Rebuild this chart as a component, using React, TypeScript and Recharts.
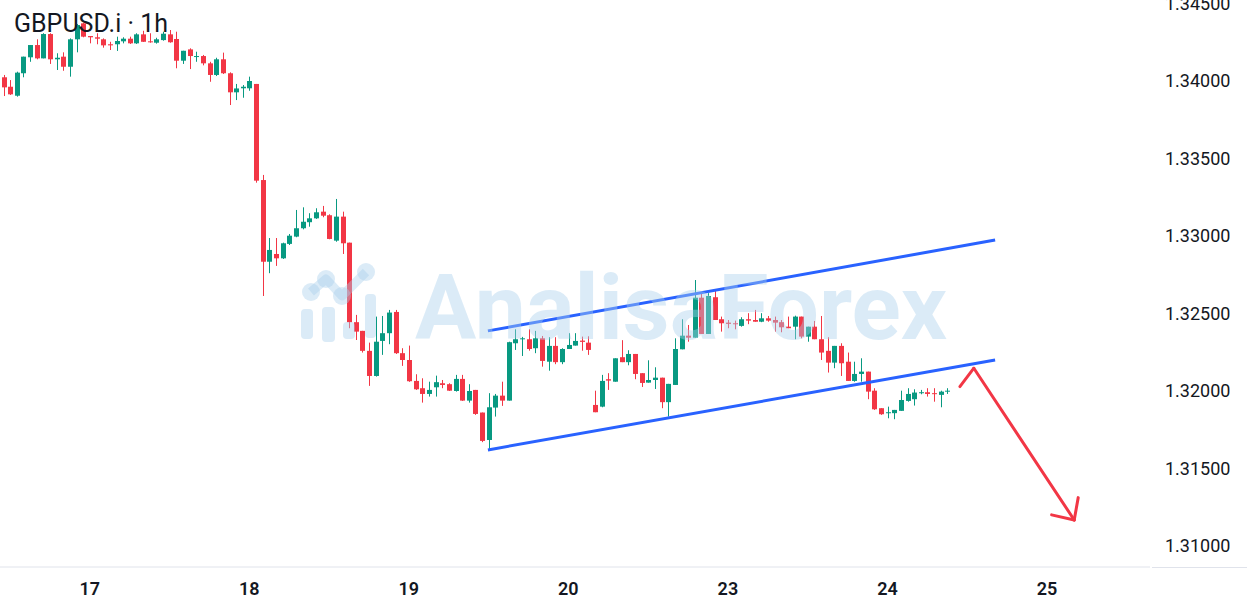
import React from 'react';
import { Bar, ComposedChart, ReferenceLine, XAxis, YAxis } from 'recharts';

// GBPUSD.i, 1h candles (oldest first)
const opens = [
  1.34024, 1.33963, 1.33905, 1.3405, 1.34153, 1.34232, 1.34146, 1.34303, 1.3414, 1.34157,
  1.34092, 1.34269, 1.34372, 1.3429, 1.34282, 1.34269, 1.34237, 1.34237, 1.34256, 1.34273,
  1.34243, 1.34301, 1.34256, 1.34247, 1.34264, 1.34301, 1.34271, 1.34131, 1.34204, 1.34155,
  1.34161, 1.34114, 1.34039, 1.3414, 1.3405, 1.33927, 1.33953, 1.33953, 1.33981, 1.33361,
  1.32834, 1.32884, 1.32856, 1.32949, 1.32996, 1.3305, 1.33089, 1.33114, 1.33157, 1.33134,
  1.3297, 1.33125, 1.32957, 1.32444, 1.32388, 1.32259, 1.32097, 1.32323, 1.32373, 1.3251,
  1.32244, 1.322, 1.32065, 1.32018, 1.31981, 1.32024, 1.3205, 1.32044, 1.32, 1.32078,
  1.31938, 1.32007, 1.31861, 1.31684, 1.31893, 1.3197, 1.31938, 1.32308, 1.32334, 1.32334,
  1.32276, 1.3234, 1.32189, 1.32291, 1.32186, 1.32271, 1.32293, 1.32325, 1.32312, 1.3191,
  1.31899, 1.32076, 1.3206, 1.32218, 1.32186, 1.32239, 1.32115, 1.32054, 1.32071, 1.32086,
  1.31928, 1.32039, 1.32269, 1.32357, 1.32344, 1.32602, 1.32368, 1.32605, 1.32463, 1.32441,
  1.32437, 1.3242, 1.32463, 1.32458, 1.32447, 1.32469, 1.32458, 1.32444, 1.32415, 1.32415,
  1.3248, 1.32351, 1.32415, 1.32334, 1.32259, 1.32183, 1.32291, 1.32189, 1.32065, 1.3211,
  1.32125, 1.32002, 1.31889, 1.31857, 1.31857, 1.31872, 1.31936, 1.31947, 1.31986, 1.31992,
  1.31986, 1.31975, 1.31996,
];
const highs = [
  1.34039, 1.34006, 1.3406, 1.34157, 1.34232, 1.34269, 1.34308, 1.34308, 1.34179, 1.34185,
  1.34275, 1.34368, 1.34376, 1.3429, 1.34308, 1.34275, 1.34253, 1.34286, 1.34282, 1.34286,
  1.34308, 1.34324, 1.34308, 1.34279, 1.34318, 1.34329, 1.34318, 1.34195, 1.34211, 1.34189,
  1.34168, 1.34124, 1.3415, 1.34183, 1.34056, 1.33981, 1.33974, 1.34028, 1.33981, 1.33394,
  1.32987, 1.32987, 1.32957, 1.33013, 1.33168, 1.33185, 1.33147, 1.33179, 1.33194, 1.3314,
  1.33239, 1.33157, 1.32957, 1.32491, 1.32388, 1.32312, 1.3248, 1.32484, 1.32523, 1.32523,
  1.32276, 1.32293, 1.32108, 1.32082, 1.3206, 1.32099, 1.32071, 1.3205, 1.32104, 1.32104,
  1.32044, 1.32007, 1.31861, 1.31986, 1.31981, 1.3206, 1.32318, 1.32398, 1.32349, 1.32398,
  1.32388, 1.32355, 1.32347, 1.32347, 1.32276, 1.32373, 1.32373, 1.32351, 1.32353, 1.32002,
  1.32104, 1.32115, 1.32211, 1.32328, 1.32263, 1.32239, 1.32115, 1.32198, 1.32153, 1.32086,
  1.32046, 1.3234, 1.32463, 1.32426, 1.32716, 1.32635, 1.32631, 1.32656, 1.3248, 1.32458,
  1.32454, 1.32476, 1.32502, 1.32523, 1.32502, 1.32484, 1.3248, 1.32458, 1.3248, 1.32486,
  1.3248, 1.32415, 1.32452, 1.32484, 1.32347, 1.32291, 1.32308, 1.32248, 1.32189, 1.32211,
  1.32125, 1.32018, 1.31889, 1.31899, 1.31878, 1.32002, 1.32018, 1.32011, 1.32007, 1.32018,
  1.32018, 1.32002, 1.32018,
];
const lows = [
  1.33903, 1.3391, 1.33899, 1.34024, 1.34124, 1.3414, 1.34146, 1.3411, 1.34071, 1.34066,
  1.34028, 1.34185, 1.34282, 1.34243, 1.34237, 1.34215, 1.342, 1.34194, 1.34243, 1.34239,
  1.34239, 1.34252, 1.34247, 1.34241, 1.3426, 1.34247, 1.34082, 1.3411, 1.34077, 1.34124,
  1.34101, 1.33995, 1.34032, 1.34045, 1.33845, 1.33877, 1.33892, 1.33937, 1.33344, 1.32613,
  1.3276, 1.32807, 1.32852, 1.32942, 1.32992, 1.33043, 1.3306, 1.3311, 1.33121, 1.32979,
  1.32963, 1.32884, 1.32405, 1.32329, 1.32248, 1.32033, 1.32093, 1.32233, 1.32302, 1.32239,
  1.32162, 1.32059, 1.32007, 1.31925, 1.31964, 1.31964, 1.32018, 1.32, 1.31996, 1.31936,
  1.31925, 1.31846, 1.3167, 1.3162, 1.31835, 1.31904, 1.31938, 1.32265, 1.32226, 1.3226,
  1.32244, 1.32157, 1.32131, 1.32173, 1.32173, 1.32271, 1.32293, 1.3226, 1.32233, 1.31863,
  1.31895, 1.32007, 1.3206, 1.32186, 1.32166, 1.32076, 1.32026, 1.32054, 1.32013, 1.31889,
  1.31835, 1.32039, 1.32269, 1.32318, 1.32344, 1.32368, 1.32368, 1.32458, 1.32383, 1.32405,
  1.32398, 1.32415, 1.32431, 1.32447, 1.32444, 1.32447, 1.32383, 1.32379, 1.32405, 1.32334,
  1.3234, 1.32318, 1.32334, 1.322, 1.32119, 1.32147, 1.32097, 1.32065, 1.3206, 1.3206,
  1.31947, 1.31878, 1.31846, 1.31824, 1.31818, 1.31872, 1.31931, 1.31906, 1.31979, 1.31964,
  1.31931, 1.31895, 1.31981,
];
const closes = [
  1.33959, 1.33914, 1.34054, 1.34157, 1.34232, 1.34146, 1.34303, 1.3414, 1.3415, 1.34092,
  1.34269, 1.34361, 1.34286, 1.34282, 1.34273, 1.3423, 1.3423, 1.34258, 1.34273, 1.34243,
  1.34301, 1.34253, 1.3425, 1.34269, 1.34305, 1.3425, 1.34131, 1.34195, 1.34161, 1.34161,
  1.34114, 1.34039, 1.3414, 1.3405, 1.33927, 1.33952, 1.33963, 1.34, 1.33357, 1.32834,
  1.3291, 1.32856, 1.32953, 1.33002, 1.3305, 1.33092, 1.33114, 1.33153, 1.33131, 1.32981,
  1.33125, 1.32953, 1.32444, 1.32383, 1.32259, 1.32097, 1.32318, 1.32373, 1.32506, 1.32244,
  1.322, 1.32063, 1.32011, 1.31981, 1.32007, 1.32057, 1.32039, 1.32002, 1.32078, 1.31938,
  1.32, 1.31852, 1.31678, 1.31895, 1.3197, 1.31938, 1.32315, 1.32334, 1.3234, 1.32271,
  1.3234, 1.32194, 1.32291, 1.32186, 1.32271, 1.32297, 1.32323, 1.32317, 1.32265, 1.31863,
  1.32065, 1.32067, 1.32211, 1.32186, 1.32239, 1.3211, 1.32052, 1.32071, 1.32086, 1.31928,
  1.32046, 1.32271, 1.32357, 1.32344, 1.32602, 1.32368, 1.32613, 1.32458, 1.32437, 1.32433,
  1.32431, 1.32463, 1.32454, 1.32447, 1.32469, 1.32454, 1.32441, 1.32411, 1.32405, 1.3248,
  1.32351, 1.32415, 1.32334, 1.32248, 1.32183, 1.32291, 1.32179, 1.32065, 1.3211, 1.32125,
  1.31996, 1.31882, 1.3185, 1.31863, 1.31878, 1.31942, 1.31981, 1.3199, 1.31992, 1.31981,
  1.31981, 1.31996, 1.32002,
];

// hour index of each day label (24 bars per trading day)
const dayTicks = [13, 37, 61, 85, 109, 133, 157];
const dayLabels = ['17', '18', '19', '20', '23', '24', '25'];
const priceTicks = [1.31, 1.315, 1.32, 1.325, 1.33, 1.335, 1.34, 1.345];

// drawn channel and projected move
const upperChannel = [
  { x: 72.9, y: 1.32388 },
  { x: 149.2, y: 1.32974 },
];
const lowerChannel = [
  { x: 72.9, y: 1.3162 },
  { x: 149.2, y: 1.322 },
];
const arrowPath = [
  { x: 143.9, y: 1.32028 },
  { x: 146.0, y: 1.32147 },
  { x: 161.1, y: 1.31168 },
];
const arrowHead = [
  { x: 157.7, y: 1.31201 },
  { x: 161.7, y: 1.31312 },
];

const UP = '#089981';
const DOWN = '#f23645';
const TEXT = '#131722';
const WATERMARK = 'rgba(170, 208, 236, 0.42)';

const candles = opens.map((open, i) => ({
  x: i,
  open,
  close: closes[i],
  high: highs[i],
  low: lows[i],
  range: [lows[i], highs[i]],
}));

function Candle(props: any) {
  const { x, y, width, height, payload } = props;
  if (!payload || height == null) return null;
  const top = Math.min(y, y + height);
  const h = Math.abs(height);
  const span = payload.high - payload.low || 1;
  const toY = (v: number) => top + ((payload.high - v) / span) * h;
  const up = payload.close >= payload.open;
  const color = up ? UP : DOWN;
  const cx = Math.round(x + width / 2) + 0.5;
  const bodyTop = toY(Math.max(payload.open, payload.close));
  const bodyBottom = toY(Math.min(payload.open, payload.close));
  return (
    <g>
      <line x1={cx} x2={cx} y1={top} y2={top + h} stroke={color} strokeWidth={1} />
      <rect
        x={cx - 2.5}
        y={bodyTop}
        width={5}
        height={Math.max(1, bodyBottom - bodyTop)}
        fill={color}
      />
    </g>
  );
}

function segments(points: { x: number; y: number }[]) {
  return points.slice(1).map((p, i) => [points[i], p] as const);
}

export default function App() {
  return (
    <div style={{ position: 'relative', width: 1247, height: 610, background: '#fff' }}>
      <style>{'body { margin: 0; }'}</style>
      <ComposedChart
        width={1247}
        height={610}
        data={candles}
        margin={{ top: 0, right: 0, left: 0, bottom: 0 }}
        style={{ fontFamily: 'Roboto, sans-serif' }}
      >
        <XAxis
          dataKey="x"
          type="number"
          domain={[-0.5, 172.5]}
          allowDataOverflow
          ticks={dayTicks}
          interval={0}
          tickFormatter={(v: number) => dayLabels[dayTicks.indexOf(v)] ?? ''}
          height={43}
          axisLine={{ stroke: '#e0e3eb' }}
          tickLine={false}
          tickMargin={9}
          tick={{ fill: TEXT, fontSize: 18, fontWeight: 600, fontFamily: 'Roboto' }}
        />
        <YAxis
          orientation="right"
          type="number"
          domain={[1.308645, 1.345226]}
          allowDataOverflow
          ticks={priceTicks}
          interval={0}
          width={97}
          axisLine={false}
          tickLine={false}
          tickMargin={9}
          tickFormatter={(v: number) => v.toFixed(5)}
          tick={{ fill: TEXT, fontSize: 18, fontFamily: 'Roboto' }}
        />
        <Bar
          dataKey="range"
          barSize={5}
          isAnimationActive={false}
          shape={(p: any) => <Candle {...p} />}
        />
        {[upperChannel, lowerChannel].map((line, i) => (
          <ReferenceLine
            key={`ch-${i}`}
            segment={[line[0], line[1]]}
            stroke="#2962ff"
            strokeWidth={3}
            ifOverflow="visible"
          />
        ))}
        {segments(arrowPath).map(([a, b], i) => (
          <ReferenceLine
            key={`ar-${i}`}
            segment={[a, b]}
            stroke={DOWN}
            strokeWidth={3}
            strokeLinecap="round"
            ifOverflow="visible"
          />
        ))}
        {arrowHead.map((p, i) => (
          <ReferenceLine
            key={`ah-${i}`}
            segment={[p, arrowPath[arrowPath.length - 1]]}
            stroke={DOWN}
            strokeWidth={3}
            strokeLinecap="round"
            ifOverflow="visible"
          />
        ))}
      </ComposedChart>

      <svg
        width={1247}
        height={610}
        style={{ position: 'absolute', left: 0, top: 0, pointerEvents: 'none' }}
      >
        <line x1={1152} x2={1247} y1={567.5} y2={567.5} stroke="#e0e3eb" />
        {/* watermark logo */}
        <g fill={WATERMARK} stroke="none">
          <polyline
            points="311,292 326,279 342,296 366,272"
            fill="none"
            stroke={WATERMARK}
            strokeWidth={9}
            strokeLinejoin="round"
          />
          <circle cx={311} cy={292} r={9} />
          <circle cx={326} cy={279} r={9} />
          <circle cx={342} cy={296} r={9} />
          <circle cx={366} cy={272} r={9} />
          <rect x={301} y={309} width={12} height={30} rx={4} />
          <rect x={322} y={307} width={13} height={35} rx={4} />
          <rect x={343} y={322} width={12} height={17} rx={4} />
          <rect x={365} y={294} width={11} height={44} rx={4} />
        </g>
        <text
          x={415}
          y={339}
          fontFamily="Roboto, sans-serif"
          fontWeight={700}
          fontSize={90}
          textLength={532}
          lengthAdjust="spacingAndGlyphs"
          fill={WATERMARK}
        >
          AnalisaForex
        </text>
        <text x={14} y={31.5} fontFamily="Roboto, sans-serif" fontSize={25} fill={TEXT}>
          GBPUSD.i · 1h
        </text>
      </svg>
    </div>
  );
}
